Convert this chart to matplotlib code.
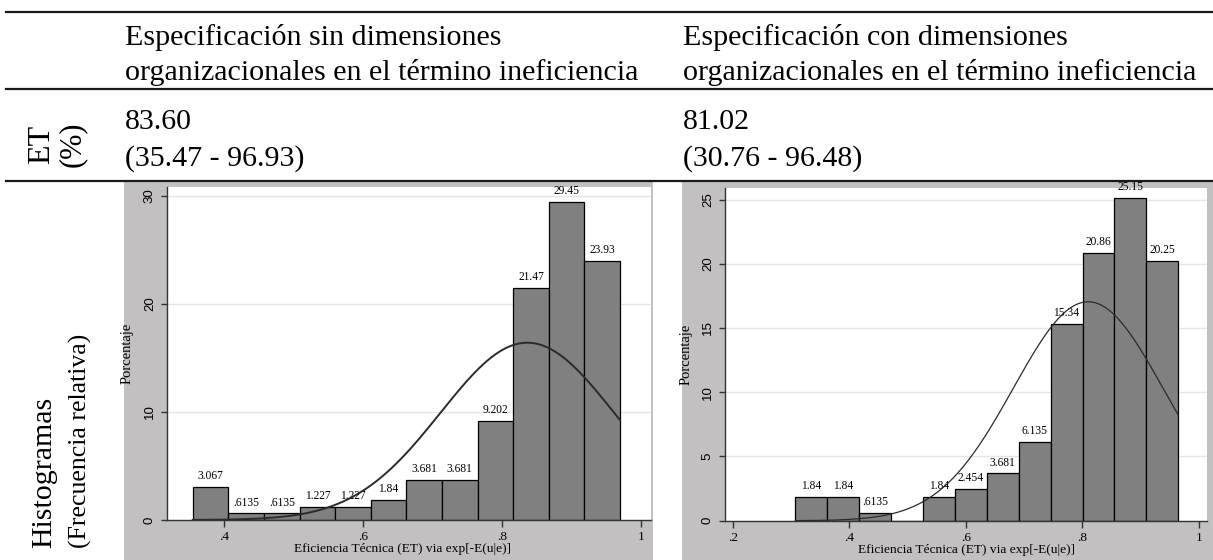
import numpy as np
import matplotlib.pyplot as plt
from matplotlib.lines import Line2D
from matplotlib.patches import Rectangle

plt.rcParams['font.family'] = ['Liberation Serif', 'DejaVu Serif']

W, H = 1213, 560  # tamaño de la figura en px (dpi 100)

# textos de la tabla
col_titles = [["Especificación sin dimensiones", "organizacionales en el término ineficiencia"],
              ["Especificación con dimensiones", "organizacionales en el término ineficiencia"]]
et_media = ["83.60", "81.02"]
et_rango = ["(35.47 - 96.93)", "(30.76 - 96.48)"]

# histograma sin dimensiones (porcentaje por barra)
pct_sin = [3.067, 0.6135, 0.6135, 1.227, 1.227, 1.84, 3.681, 3.681, 9.202, 21.47, 29.45, 23.93]
lab_sin = ["3.067", ".6135", ".6135", "1.227", "1.227", "1.84", "3.681", "3.681", "9.202", "21.47", "29.45", "23.93"]
min_sin, max_sin = 0.3547, 0.9693
mu_sin, sd_sin = 0.8360, 0.1246

# histograma con dimensiones
pct_con = [1.84, 1.84, 0.6135, 0, 1.84, 2.454, 3.681, 6.135, 15.34, 20.86, 25.15, 20.25]
lab_con = ["1.84", "1.84", ".6135", "", "1.84", "2.454", "3.681", "6.135", "15.34", "20.86", "25.15", "20.25"]
min_con, max_con = 0.3076, 0.9648
mu_con, sd_con = 0.8102, 0.1282

xt_sin = [0.4, 0.6, 0.8, 1.0]
xt_sin_lab = [".4", ".6", ".8", "1"]
yt_sin = [0, 10, 20, 30]
xt_con = [0.2, 0.4, 0.6, 0.8, 1.0]
xt_con_lab = [".2", ".4", ".6", ".8", "1"]
yt_con = [0, 5, 10, 15, 20, 25]


def fx(x):
    return x / W


def fy(y):
    return 1 - y / H


fig = plt.figure(figsize=(W / 100, H / 100), dpi=100)

# fondos grises de los graficos
for x0, x1 in [(124, 653), (682, 1213)]:
    fig.add_artist(Rectangle((fx(x0), 0), fx(x1) - fx(x0), fy(182), transform=fig.transFigure,
                             facecolor='#c2c0c0', edgecolor='none', zorder=-1))

# lineas de la tabla
for y in [12, 89, 181]:
    fig.add_artist(Line2D([fx(6), 1], [fy(y), fy(y)], transform=fig.transFigure, color='#1a1a1a', lw=1.6))

for i, x in enumerate([125, 683]):
    fig.text(fx(x), fy(45), col_titles[i][0], fontsize=21.6, va='baseline')
    fig.text(fx(x), fy(80), col_titles[i][1], fontsize=21.6, va='baseline')
    fig.text(fx(x), fy(129), et_media[i], fontsize=21.5, va='baseline')
    fig.text(fx(x), fy(166), et_rango[i], fontsize=21.5, va='baseline')

fig.text(fx(42), fy(144), "ET", fontsize=23, rotation=90, ha='center', va='center')
fig.text(fx(72), fy(144), "(%)", fontsize=22, rotation=90, ha='center', va='center')
fig.text(fx(44), fy(548), "Histogramas", fontsize=21.5, rotation=90, ha='center', va='bottom')
fig.text(fx(80), fy(548), "(Frecuencia relativa)", fontsize=18.5, rotation=90, ha='center', va='bottom')


def histo(rect, pct, labs, lo, hi, mu, sd, xlim, ylim, xt, xtl, yt, lw_curve, xlab_x):
    ax = fig.add_axes(rect)
    edges = np.linspace(lo, hi, len(pct) + 1)
    bw = edges[1] - edges[0]
    ax.bar(edges[:-1], pct, width=bw, align='edge', color='#808080', edgecolor='black', linewidth=0.9, zorder=2)
    for e, h, t in zip(edges[:-1], pct, labs):
        if t:
            ax.annotate(t, (e + bw / 2, h), xytext=(0, 3.5), textcoords='offset points',
                        ha='center', va='bottom', fontsize=8.3)
    xs = np.linspace(lo, hi, 300)
    ys = 100 * bw * np.exp(-0.5 * ((xs - mu) / sd) ** 2) / (sd * np.sqrt(2 * np.pi))
    ax.plot(xs, ys, color='#2b2b2b', lw=lw_curve, zorder=3)
    ax.set_xlim(*xlim)
    ax.set_ylim(*ylim)
    ax.set_xticks(xt)
    ax.set_xticklabels(xtl, fontsize=9.5)
    ax.set_yticks(yt)
    ax.set_yticklabels([str(v) for v in yt], rotation=90, va='center', fontsize=9.5, family='Liberation Sans')
    ax.yaxis.grid(True, color='#e6e6e6', lw=1)
    ax.set_axisbelow(True)
    for s in ['top', 'right']:
        ax.spines[s].set_visible(False)
    for s in ['left', 'bottom']:
        ax.spines[s].set_color('#333333')
        ax.spines[s].set_linewidth(1)
    ax.tick_params(axis='x', length=5, width=1, pad=3, colors='#333333', labelcolor='black')
    ax.tick_params(axis='y', length=4, width=1, pad=4, colors='#333333', labelcolor='black')
    ax.set_ylabel("Porcentaje", fontsize=10.5)
    ax.yaxis.set_label_coords(-0.068, 0.5)
    ax.set_xlabel("Eficiencia Técnica (ET) via exp[-E(u|e)]", fontsize=9.6, va='center')
    ax.xaxis.set_label_coords(xlab_x, -0.088)
    return ax


histo([fx(167), fy(520), (650.7 - 167) / W, (520 - 187) / H], pct_sin, lab_sin, min_sin, max_sin,
      mu_sin, sd_sin, (0.3176, 1.0135), (0, 30.8), xt_sin, xt_sin_lab, yt_sin, 1.4, 0.487)
histo([fx(725), fy(520.7), (1207 - 725) / W, (520.7 - 188) / H], pct_con, lab_con, min_con, max_con,
      mu_con, sd_con, (0.1868, 1.0142), (0, 25.9), xt_con, xt_con_lab, yt_con, 0.9, 0.5)

fig.savefig("out.png", dpi=100)
